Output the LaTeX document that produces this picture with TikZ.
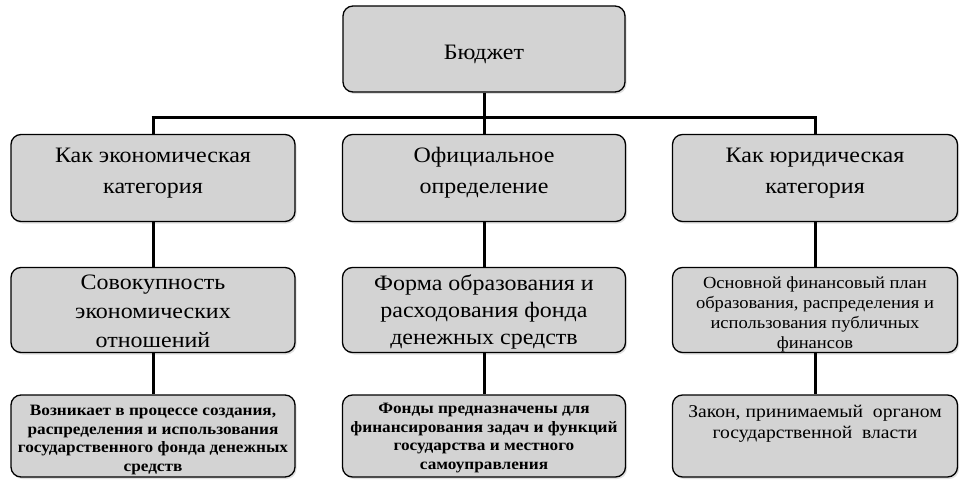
\documentclass[tikz,border=0pt]{standalone}
\usepackage{fontspec}
\setmainfont[FakeStretch=1.09]{Liberation Serif}
\usetikzlibrary{shadows}
\definecolor{boxgray}{RGB}{211,211,211}
\tikzset{
  box/.style={draw=black, line width=1.3pt, rounded corners=10pt, fill=boxgray,
    drop shadow={opacity=0.25, shadow xshift=1.5pt, shadow yshift=-2pt},
    inner sep=0pt},
  txt/.style={align=center, inner sep=0pt, text=black},
  conn/.style={line width=3pt, draw=black},
  big/.style={font=\fontsize{22}{31}\selectfont},
  mid/.style={font=\fontsize{22}{29}\selectfont},
  small/.style={font=\fontsize{17}{20}\selectfont},
  tiny/.style={font=\bfseries\fontsize{15.8}{18.7}\selectfont},
}
\begin{document}
\begin{tikzpicture}[x=1pt,y=-1pt]
\useasboundingbox (0,0) rectangle (964,484);
\coordinate (jl) at (153,118);
\coordinate (jm) at (484,118);
\coordinate (jr) at (815,118);
% boxes
\node[box, minimum width=282pt, minimum height=86pt] (top) at (484,49) {};
\node[box, minimum width=284pt, minimum height=87pt] (a1) at (153,178) {};
\node[box, minimum width=283pt, minimum height=87pt] (b1) at (484,178) {};
\node[box, minimum width=285pt, minimum height=87pt] (c1) at (815,178) {};
\node[box, minimum width=284pt, minimum height=85pt] (a2) at (153,310) {};
\node[box, minimum width=283pt, minimum height=85pt] (b2) at (484,310) {};
\node[box, minimum width=285pt, minimum height=85pt] (c2) at (815,310) {};
\node[box, minimum width=284pt, minimum height=82pt] (a3) at (153,436) {};
\node[box, minimum width=283pt, minimum height=82pt] (b3) at (484,436) {};
\node[box, minimum width=285pt, minimum height=82pt] (c3) at (815,436) {};
% texts
\node[txt, big] (topt) at (484,54) {Бюджет};
\node[txt, big] (a1t) at (153,173) {Как экономическая\\категория};
\node[txt, big] (b1t) at (484,173) {Официальное\\определение};
\node[txt, big] (c1t) at (815,173) {Как юридическая\\категория};
\node[txt, mid] (a2t) at (153,311) {Совокупность\\экономических\\отношений};
\node[txt, font=\fontsize{22}{27}\selectfont] (b2t) at (484,312) {Форма образования и\\расходования фонда\\денежных средств};
\node[txt, small] (c2t) at (815,314) {Основной финансовый план\\образования, распределения и\\использования публичных\\финансов};
\node[txt, tiny] (a3t) at (153,440) {Возникает в процессе создания,\\распределения и использования\\государственного фонда денежных\\средств};
\node[txt, tiny] (b3t) at (484,438) {Фонды предназначены для\\финансирования задач и функций\\государства и местного\\самоуправления};
\node[txt, font=\fontsize{18}{20.5}\selectfont] (c3t) at (815,424) {Закон, принимаемый\ \ органом\\государственной\ \ власти};
% lines
\draw[conn] (top.south) -- (jm);
\draw[conn] ([xshift=-1.5pt]jl) -- ([xshift=1.5pt]jr);
\draw[conn] (jl) -- (a1.north);
\draw[conn] (jm) -- (b1.north);
\draw[conn] (jr) -- (c1.north);
\draw[conn] (a1.south) -- (a2.north);
\draw[conn] (b1.south) -- (b2.north);
\draw[conn] (c1.south) -- (c2.north);
\draw[conn] (a2.south) -- (a3.north);
\draw[conn] (b2.south) -- (b3.north);
\draw[conn] (c2.south) -- (c3.north);
\end{tikzpicture}
\end{document}
